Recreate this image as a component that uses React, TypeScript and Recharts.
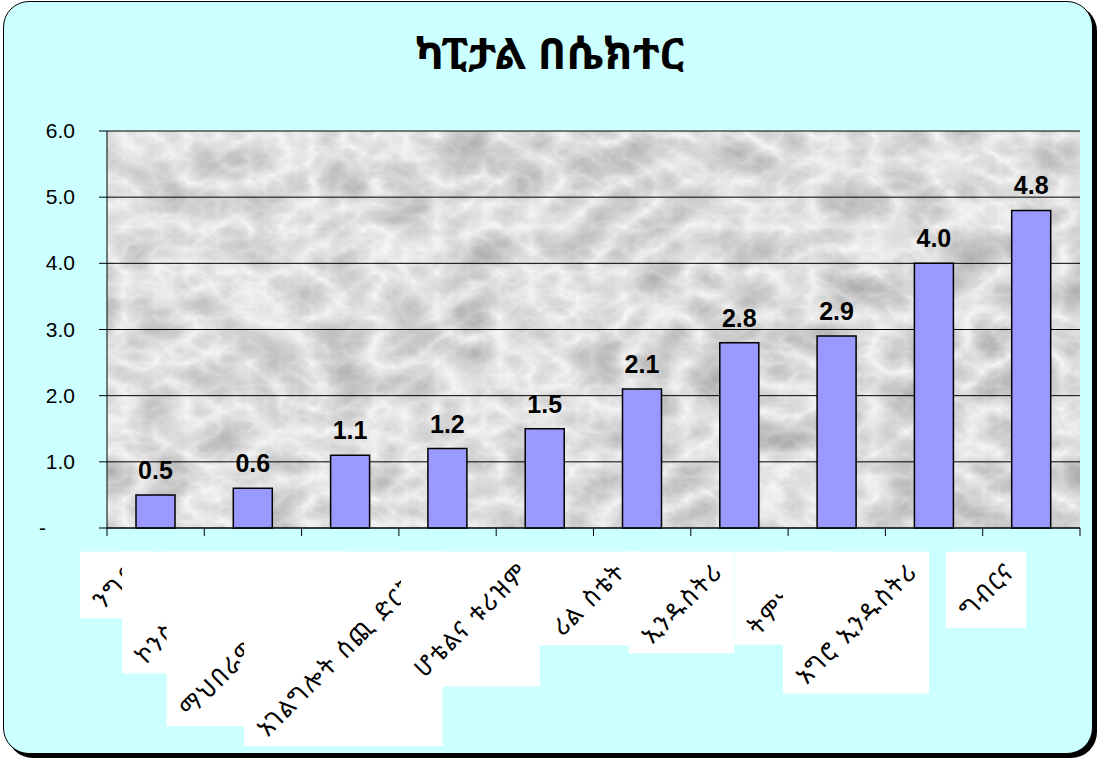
import React, { useLayoutEffect, useRef, useState } from "react";
import { BarChart, Bar, XAxis, YAxis, CartesianGrid, LabelList } from "recharts";

const title = "ካፒታል በሴክተር";
const categories = [
  "ንግድ",
  "ኮንስትራክሽን",
  "ማህበራዊ አገልግሎት",
  "አገልግሎት ሰጪ ድርጅት",
  "ሆቴልና ቱሪዝም",
  "ሪል ስቴት",
  "ኢንዱስትሪ",
  "ትምህርት",
  "አግሮ ኢንዱስትሪ",
  "ግብርና",
];
const values = [0.5, 0.6, 1.1, 1.2, 1.5, 2.1, 2.8, 2.9, 4.0, 4.8];
const yTicks = [0, 1, 2, 3, 4, 5, 6];

const data = categories.map((name, i) => ({ name, value: values[i] }));

const W = 1099;
const H = 762;
const ETH = "'Noto Sans Ethiopic', 'Abyssinica SIL', 'Noto Serif Ethiopic', 'DejaVu Sans', sans-serif";
const ARIAL = "'Liberation Sans', Arial, sans-serif";

function CatTick(props: any) {
  const { x, y, payload, index } = props;
  const off = payload && payload.offset ? payload.offset : 48.6;
  const ref = useRef<SVGGElement>(null);
  const [bb, setBb] = useState<any>(null);
  useLayoutEffect(() => {
    if (ref.current) {
      const b = ref.current.getBBox();
      setBb({ x: b.x, y: b.y, w: b.width, h: b.height });
    }
  }, [payload && payload.value, x, y]);
  const ax = x - 15;
  const ay = y + 43;
  return (
    <g>
      {index === 0 && <line x1={x - off} x2={x - off} y1={y - 2} y2={y + 6} stroke="#000" />}
      <line x1={x + off} x2={x + off} y1={y - 2} y2={y + 6} stroke="#000" />
      {bb && <rect x={bb.x - 5} y={bb.y - 3} width={bb.w + 10} height={bb.h + 6} fill="#fff" />}
      <g ref={ref}>
        <text
          x={ax}
          y={ay}
          transform={`rotate(-45 ${ax} ${ay})`}
          textAnchor="end"
          fontSize={24}
          letterSpacing={2}
          fontFamily={ETH}
          fill="#000"
        >
          {payload.value}
        </text>
      </g>
    </g>
  );
}

function YTick(props: any) {
  const { x, y, payload } = props;
  const v = payload.value;
  if (v === 0) {
    return (
      <text x={x - 36} y={y} dy={7} fontSize={21} fontFamily={ARIAL} fill="#000" textAnchor="start">
        -
      </text>
    );
  }
  return (
    <text x={x} y={y} dy={7} fontSize={21} fontFamily={ARIAL} fill="#000" textAnchor="end">
      {v.toFixed(1)}
    </text>
  );
}

export default function App() {
  return (
    <div style={{ position: "absolute", left: 0, top: 0, width: W, height: H }}>
      <div
        style={{
          position: "absolute",
          left: 3,
          top: 1,
          width: 1088,
          height: 751,
          background: "#CCFFFF",
          border: "1.5px solid #000",
          borderRadius: 26,
          boxShadow: "4px 4px 0 #000",
        }}
      />
      <div
        style={{
          position: "absolute",
          left: 0,
          top: 22,
          width: W,
          textAlign: "center",
          fontFamily: ETH,
          fontWeight: "bold",
          fontSize: 44,
          color: "#000",
        }}
      >
        {title}
      </div>
      <div style={{ position: "absolute", left: 0, top: 0 }}>
        <BarChart
          width={W}
          height={H}
          data={data}
          margin={{ top: 131, right: 19, bottom: 204, left: 0 }}
          barSize={39}
        >
          <defs>
            <filter
              id="marbleF"
              x={0}
              y={0}
              width={W}
              height={H}
              filterUnits="userSpaceOnUse"
              colorInterpolationFilters="sRGB"
            >
              <feTurbulence type="turbulence" baseFrequency="0.016 0.022" numOctaves={4} seed={7} result="t" />
              <feColorMatrix
                in="t"
                type="matrix"
                values="-0.36 0 0 0 0.97  -0.36 0 0 0 0.97  -0.36 0 0 0 0.97  0 0 0 0 1"
              />
            </filter>
            <pattern id="marblePat" patternUnits="userSpaceOnUse" x={0} y={0} width={W} height={H}>
              <rect x={0} y={0} width={W} height={H} fill="#fff" filter="url(#marbleF)" />
            </pattern>
          </defs>
          <CartesianGrid vertical={false} stroke="#000" strokeWidth={1} fill="url(#marblePat)" fillOpacity={1} />
          <XAxis
            dataKey="name"
            interval={0}
            axisLine={{ stroke: "#000" }}
            tickLine={false}
            tickSize={0}
            tick={(p: any) => <CatTick {...p} />}
          />
          <YAxis
            width={107}
            domain={[0, 6]}
            ticks={yTicks}
            interval={0}
            axisLine={{ stroke: "#000" }}
            tickLine={{ stroke: "#000" }}
            tickSize={8}
            tickMargin={24}
            tick={(p: any) => <YTick {...p} />}
          />
          <Bar dataKey="value" fill="#9999FF" stroke="#000" strokeWidth={1.5} isAnimationActive={false}>
            <LabelList
              dataKey="value"
              position="top"
              offset={16}
              formatter={(v: any) => Number(v).toFixed(1)}
              style={{ fontSize: 25, fontWeight: "bold", fontFamily: ARIAL, fill: "#000" }}
            />
          </Bar>
        </BarChart>
      </div>
    </div>
  );
}
